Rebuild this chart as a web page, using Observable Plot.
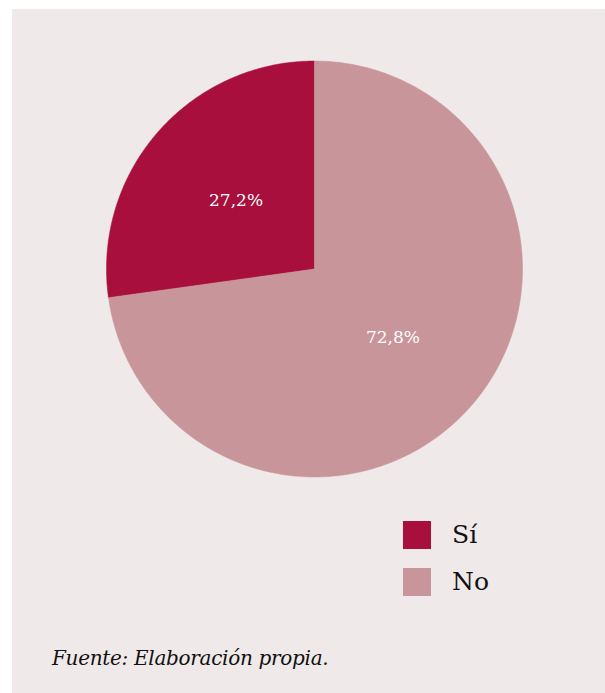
<!DOCTYPE html>
<html>
<head>
<meta charset="utf-8">
<script src="https://cdn.jsdelivr.net/npm/d3@7"></script>
<script src="https://cdn.jsdelivr.net/npm/@observablehq/plot@0.6"></script>
<style>
  html, body { margin: 0; padding: 0; background: #ffffff; }
  #panel { position: absolute; left: 12px; top: 9px; width: 593px; height: 684px; background: #efe9e9; font-family: "DejaVu Serif", serif; }
  #chart { position: absolute; left: 0; top: 0; }
  #chart svg text { font-family: "DejaVu Serif", serif !important; }
  .legend { position: absolute; left: 391px; top: 502px; }
  .item { display: flex; align-items: center; height: 47px; font-size: 25px; color: #111; }
  .sw { width: 28px; height: 28px; margin-right: 21px; }
  .caption { position: absolute; left: 40px; top: 637px; font-style: italic; font-size: 20px; color: #111; font-family: "DejaVu Serif", serif; letter-spacing: -0.3px; }
</style>
</head>
<body>
<div id="panel">
  <div id="chart"></div>
  <div class="legend" id="legend"></div>
  <div class="caption">Fuente: Elaboración propia.</div>
</div>
<script>
const categories = ["Sí", "No"];
const values = [27.2, 72.8];
const labels = ["27,2%", "72,8%"];
const colors = ["#a80f3c", "#c8959b"];

const total = d3.sum(values);
const first = values[0] / total;
const pie = d3.pie().sort(null).value(d => d.value)
  .startAngle(-2 * Math.PI * first).endAngle(2 * Math.PI * (1 - first));
const arcs = pie(categories.map((c, i) => ({cat: c, value: values[i], label: labels[i]})));

const pts = [];
arcs.forEach(a => {
  const n = 240;
  pts.push({cat: a.data.cat, x: 0, y: 0});
  for (let k = 0; k <= n; k++) {
    const t = a.startAngle + (a.endAngle - a.startAngle) * k / n;
    pts.push({cat: a.data.cat, x: Math.sin(t), y: Math.cos(t)});
  }
  pts.push({cat: a.data.cat, x: 0, y: 0});
});
const lab = arcs.map(a => {
  const m = (a.startAngle + a.endAngle) / 2;
  const r = 0.5;
  return {label: a.data.label, x: r * Math.sin(m), y: r * Math.cos(m)};
});

const W = 593, H = 490;
const plot = Plot.plot({
  width: W, height: H,
  marginLeft: 94, marginRight: 83, marginTop: 51.5, marginBottom: 22.5,
  x: {domain: [-1, 1], axis: null},
  y: {domain: [-1, 1], axis: null},
  color: {domain: categories, range: colors},
  style: {background: "transparent", fontFamily: "'DejaVu Serif', serif"},
  marks: [
    Plot.line(pts, {x: "x", y: "y", z: "cat", fill: "cat", stroke: "cat", strokeWidth: 0.5, curve: "linear"}),
    Plot.text(lab, {x: "x", y: "y", text: "label", fill: "white", fontSize: 17, fontFamily: "'DejaVu Serif', serif"})
  ]
});
document.getElementById("chart").appendChild(plot);

const leg = document.getElementById("legend");
categories.forEach((c, i) => {
  const it = document.createElement("div");
  it.className = "item";
  const sw = document.createElement("div");
  sw.className = "sw";
  sw.style.background = colors[i];
  const tx = document.createElement("span");
  tx.textContent = c;
  it.appendChild(sw); it.appendChild(tx);
  leg.appendChild(it);
});
</script>
</body>
</html>
